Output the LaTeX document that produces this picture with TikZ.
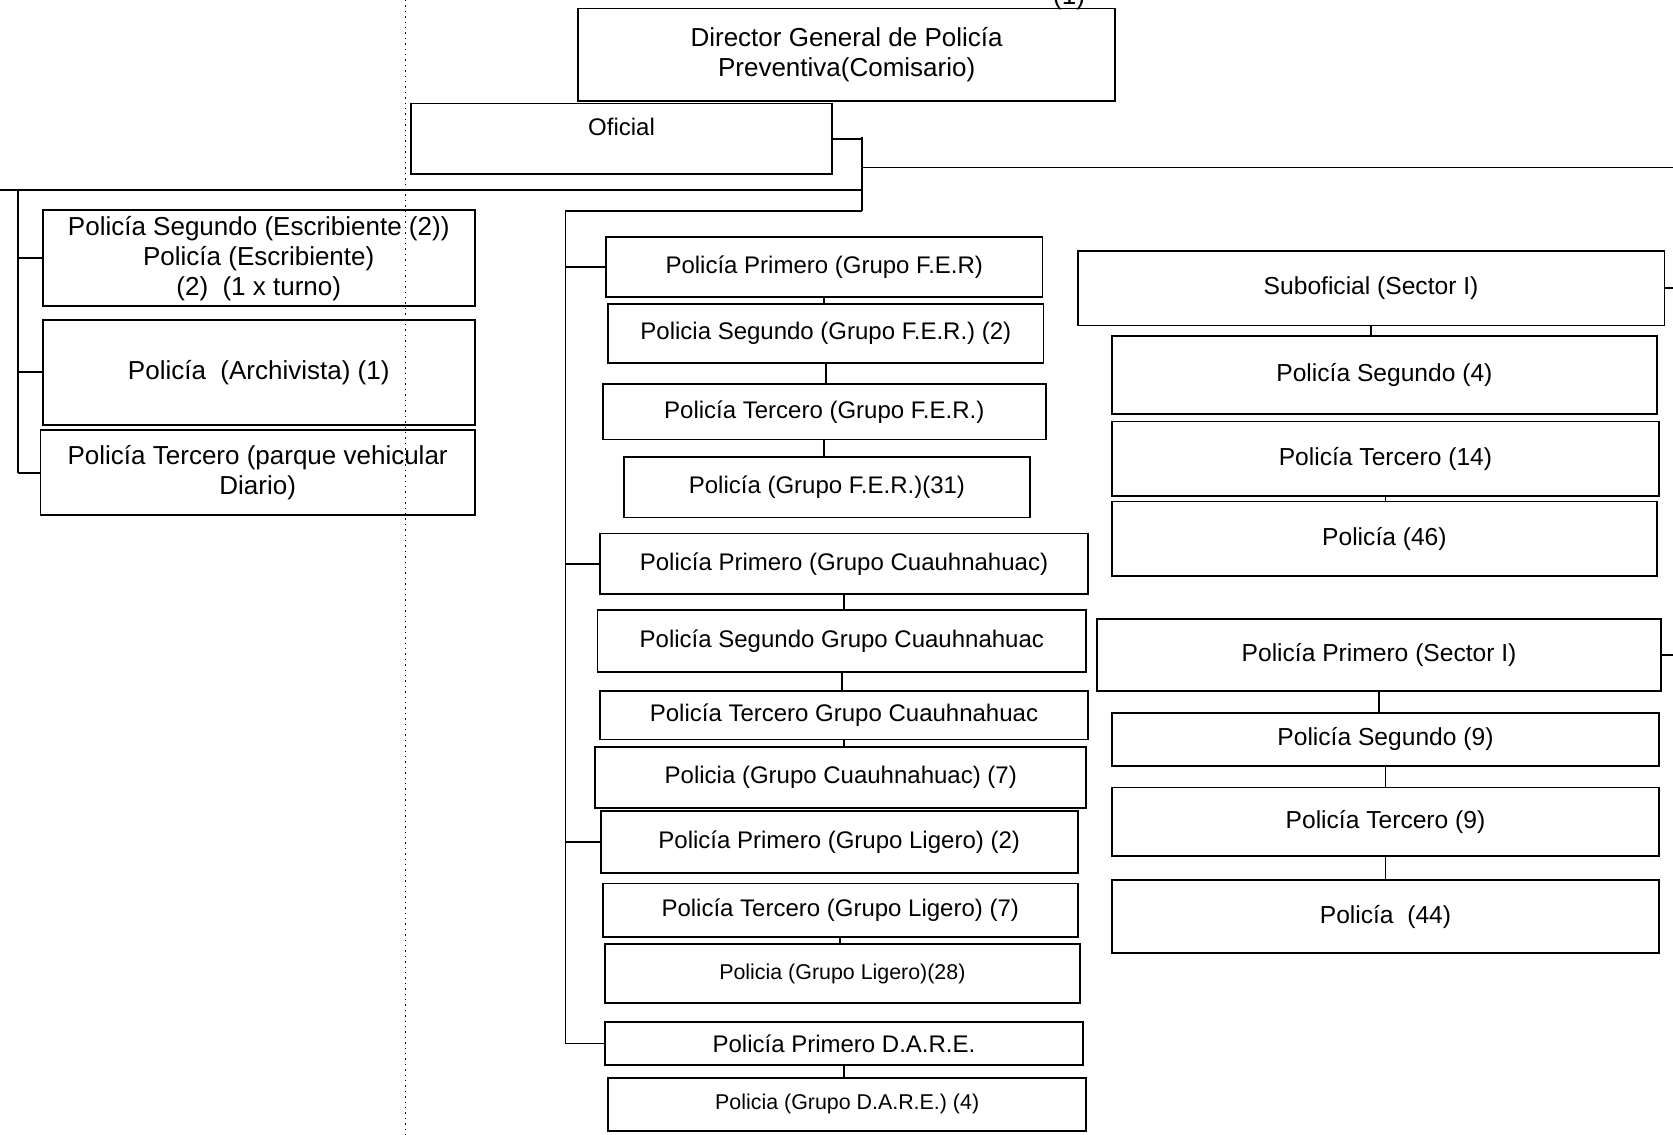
\documentclass[tikz,border=0pt]{standalone}
\usepackage{fontspec}
\setmainfont{Liberation Sans}

\begin{document}
\begin{tikzpicture}[x=0.5335pt, y=-0.5335pt, line width=0.9pt,
    puesto/.style={draw, inner sep=0pt, align=center, font=\fontsize{12}{14.5}\selectfont},
    puestogrande/.style={puesto, font=\fontsize{13}{15}\selectfont},
    puestosector/.style={puesto, font=\fontsize{12.3}{14.5}\selectfont},
    puestochico/.style={puesto, font=\fontsize{10.7}{13}\selectfont},
    caja/.style 2 args={minimum width=#1*0.5335pt, minimum height=#2*0.5335pt}]
            \useasboundingbox (0,0) rectangle (1568,1063);
            \draw[dotted, line width=0.7pt] (380,0) -- (380,1063);
            \node[font=\fontsize{13}{15}\selectfont] (folio) at (1002,-2) {(1)};
            \node[puestogrande, caja={503}{87}] (director) at (793.5,51.5) {Director General de Policía\\Preventiva(Comisario)};
            \node[puesto, caja={395}{66}, text depth=12pt] (oficial) at (582.5,130) {Oficial};
            \node[puestogrande, caja={405}{90}] (l1) at (242.5,242) {Policía Segundo (Escribiente (2))\\Policía (Escribiente)\\(2)\ \ (1 x turno)};
            \node[puestogrande, caja={405}{98}] (l2) at (242.5,349) {Policía\ \ (Archivista) (1)};
            \node[puestogrande, caja={407}{80}] (l3) at (241.5,443) {Policía Tercero (parque vehicular\\Diario)};
            \node[puesto, caja={409}{56}] (m1) at (772.5,250) {Policía Primero (Grupo F.E.R)};
            \node[puesto, caja={408}{55}] (m2) at (774,312.5) {Policia Segundo (Grupo F.E.R.) (2)};
            \node[puesto, caja={415}{52}] (m3) at (772.5,386) {Policía Tercero (Grupo F.E.R.)};
            \node[puesto, caja={380}{57}] (m4) at (775,456.5) {Policía (Grupo F.E.R.)(31)};
            \node[puesto, caja={458}{57}] (m5) at (791,528.5) {Policía Primero (Grupo Cuauhnahuac)};
            \node[puesto, caja={458}{58}] (m6) at (789,601) {Policía Segundo Grupo Cuauhnahuac};
            \node[puesto, caja={458}{45}] (m7) at (791,670.5) {Policía Tercero Grupo Cuauhnahuac};
            \node[puesto, caja={460}{57}] (m8) at (788,728.5) {Policia (Grupo Cuauhnahuac) (7)};
            \node[puesto, caja={447}{58}] (m9) at (786.5,789) {Policía Primero (Grupo Ligero) (2)};
            \node[puesto, caja={445}{50}] (m10) at (787.5,853) {Policía Tercero (Grupo Ligero) (7)};
            \node[puestochico, caja={445}{55}] (m11) at (789.5,912.5) {Policia (Grupo Ligero)(28)};
            \node[puesto, caja={448}{40}] (m12) at (791,978) {Policía Primero D.A.R.E.};
            \node[puestochico, caja={448}{50}] (m13) at (794,1035) {Policia (Grupo D.A.R.E.) (4)};
            \node[puestosector, caja={550}{70}] (r1) at (1285,270) {Suboficial (Sector I)};
            \node[puestosector, caja={511}{73}] (r2) at (1297.5,351.5) {Policía Segundo (4)};
            \node[puestosector, caja={513}{70}] (r3) at (1298.5,430) {Policía Tercero (14)};
            \node[puestosector, caja={511}{70}] (r4) at (1297.5,505) {Policía (46)};
            \node[puestosector, caja={529}{68}] (r5) at (1292.5,614) {Policía Primero (Sector I)};
            \node[puestosector, caja={513}{50}] (r6) at (1298.5,693) {Policía Segundo (9)};
            \node[puestosector, caja={513}{64}] (r7) at (1298.5,770) {Policía Tercero (9)};
            \node[puestosector, caja={513}{68}] (r8) at (1298.5,859) {Policía\ \ (44)};
            \coordinate (jtop) at (808,128);
            \coordinate (jbot) at (808,198);
            \coordinate (rtee) at (808,157);
            \coordinate (redge) at (1568,157);
            \coordinate (ltee) at (808,178);
            \coordinate (lbus) at (17,178);
            \coordinate (ledge) at (0,178);
            \coordinate (mbus) at (530,198);
            \draw (oficial.east) -- (oficial.east -| jtop);
            \draw (jtop) -- (jbot);
            \draw (rtee) -- (redge);
            \draw (ltee) -- (ledge);
            \draw (lbus) -- (lbus |- l3.west);
            \draw (jbot) -- (mbus) -- (mbus |- m12.west);
            \foreach \p in {l1,l2,l3} \draw (\p.west) -- (\p.west -| lbus);
            \foreach \p in {m1,m5,m9,m12} \draw (\p.west) -- (\p.west -| mbus);
            \foreach \a/\b in {m1/m2,m2/m3,m3/m4,m5/m6,m6/m7,m7/m8,m10/m11,m12/m13,r1/r2,r3/r4,r5/r6,r6/r7,r7/r8}
                \draw (\a.south) -- (\a.south |- \b.north);
            \draw (r1.east) -- (r1.east -| redge);
            \draw (r5.east) -- (r5.east -| redge);
        \end{tikzpicture}
\end{document}
